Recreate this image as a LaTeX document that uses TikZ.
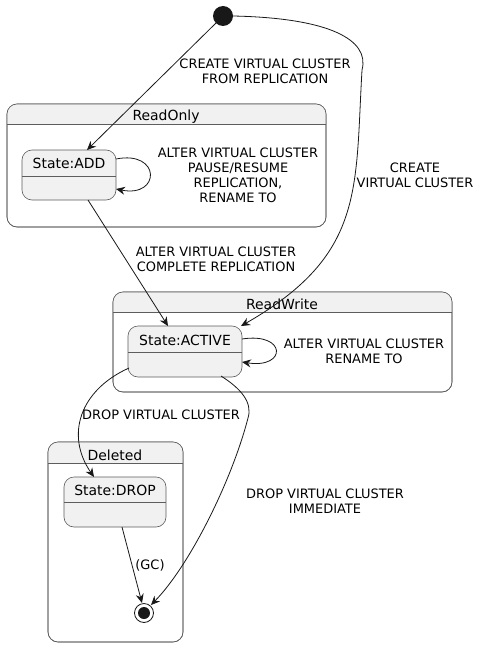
\documentclass[tikz,border=0pt]{standalone}
\usepackage{fontspec}
\setmainfont{DejaVu Sans}
\usetikzlibrary{arrows.meta,calc}
\definecolor{lc}{HTML}{181818}
\definecolor{sf}{HTML}{F1F1F1}
\tikzset{
  cont/.style={draw=lc!70, line width=0.6bp, rounded corners=10bp, fill=white, inner sep=0pt},
  statebox/.style={draw=lc!70, line width=0.6bp, rounded corners=10bp, fill=sf, inner sep=0pt},
  ttl/.style={font=\fontsize{14}{16}\selectfont, inner sep=0pt, anchor=base},
  lbl/.style={font=\fontsize{13}{15}\selectfont, align=center, inner sep=0pt},
  edge/.style={draw=lc, line width=0.8bp, -{Stealth[length=9bp,width=8bp,inset=3bp]}},
}
\begin{document}
\begin{tikzpicture}[x=1bp,y=-1bp]
\useasboundingbox (0,0) rectangle (491,654);
% containers
\newcommand{\mycont}[6]{% name x1 y1 x2 y2 yh
  \node[cont, minimum width={(#4-#2)*1bp}, minimum height={(#5-#3)*1bp}] (#1) at ({(#2+#4)/2},{(#3+#5)/2}) {};
  \begin{scope}
    \clip[rounded corners=10bp] (#2,#3) rectangle (#4,#5);
    \fill[sf] (#2,#3) rectangle (#4,#6);
  \end{scope}
  \draw[draw=lc!70, line width=0.6bp, rounded corners=10bp] (#2,#3) rectangle (#4,#5);
  \draw[draw=lc!70, line width=0.6bp] (#2,#6) -- (#4,#6);
}
\newcommand{\mystate}[6]{% name x1 y1 x2 y2 ydiv
  \node[statebox, minimum width={(#4-#2)*1bp}, minimum height={(#5-#3)*1bp}] (#1) at ({(#2+#4)/2},{(#3+#5)/2}) {};
  \draw[draw=lc!70, line width=0.6bp] (#2,#6) -- (#4,#6);
}
\mycont{ro}{7}{104}{326}{227}{124}
\node[ttl] (roT) at (166,121) {ReadOnly};
\mycont{rw}{113}{292}{452}{392}{312}
\node[ttl] (rwT) at (282,309) {ReadWrite};
\mycont{del}{48}{442}{183}{642}{463}
\node[ttl] (delT) at (115,460) {Deleted};

\mystate{add}{22}{150}{116}{200}{176}
\node[ttl] (addT) at (69,168) {State:ADD};
\mystate{act}{128}{326}{242}{377}{352}
\node[ttl] (actT) at (185,345) {State:ACTIVE};
\mystate{drop}{64}{477}{166}{527}{502}
\node[ttl] (dropT) at (115,495) {State:DROP};

% initial and final
\node[circle, fill=lc, minimum size=20bp, inner sep=0pt] (init) at (223,16) {};
\node[circle, draw=lc, line width=0.8bp, fill=white, minimum size=19bp, inner sep=0pt] (fin) at (144,613) {};
\node[circle, fill=lc, minimum size=12bp, inner sep=0pt] (finI) at (144,613) {};

% coordinates
\coordinate (a1) at (87,150);
\coordinate (ao1) at (116,159);
\coordinate (ai1) at (116,189);
\coordinate (a2) at (88,200);
\coordinate (c1) at (168,326);
\coordinate (c2) at (241,326);
\coordinate (co1) at (242,339);
\coordinate (ci1) at (242,362);
\coordinate (c3) at (129,368);
\coordinate (c4) at (221,376);
\coordinate (d1) at (94,477);
\coordinate (d2) at (122,527);
\coordinate (f1) at (142,603);
\coordinate (f2) at (151,605);
\coordinate (i1) at (216,23);
\coordinate (i2) at (233,16);
\coordinate (m1) at (362,70);
\coordinate (m2) at (248,418);

% edges
\draw[edge] (i1) -- (a1);
\draw[edge] (i2) .. controls (330,18) and (370,40) .. (m1) .. controls (355,190) and (365,255) .. (c2);
\draw[edge] (ao1) .. controls (161,150) and (161,198) .. (ai1);
\draw[edge] (a2) -- (c1);
\draw[edge] (co1) .. controls (287,332) and (287,369) .. (ci1);
\draw[edge] (c3) .. controls (80,390) and (65,435) .. (d1);
\draw[edge] (c4) .. controls (240,388) and (253,402) .. (m2) .. controls (232,480) and (190,565) .. (f2);
\draw[edge] (d2) -- (f1);

% labels
\node[lbl] (l1) at (265,71) {CREATE VIRTUAL CLUSTER\\FROM REPLICATION};
\node[lbl] (l2) at (415,175) {CREATE\\VIRTUAL CLUSTER};
\node[lbl] (l3) at (238,175) {ALTER VIRTUAL CLUSTER\\PAUSE/RESUME\\REPLICATION,\\RENAME TO};
\node[lbl] (l4) at (216,259) {ALTER VIRTUAL CLUSTER\\COMPLETE REPLICATION};
\node[lbl] (l5) at (364,351) {ALTER VIRTUAL CLUSTER\\RENAME TO};
\node[lbl] (l6) at (161,415) {DROP VIRTUAL CLUSTER};
\node[lbl] (l7) at (325,501) {DROP VIRTUAL CLUSTER\\IMMEDIATE};
\node[lbl] (l8) at (150,565) {(GC)};
\end{tikzpicture}
\end{document}
